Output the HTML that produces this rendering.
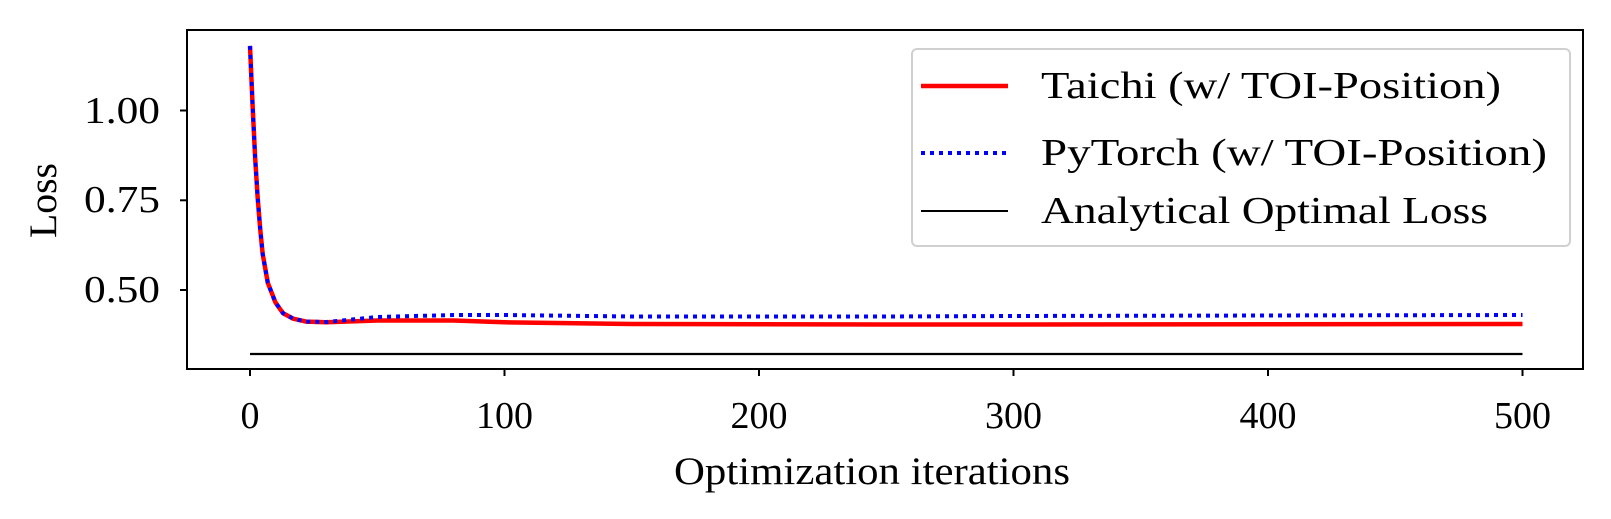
<!DOCTYPE html>
<html><head><meta charset="utf-8"><style>
html,body{margin:0;padding:0;background:#fff;}
svg{display:block;font-family:"Liberation Serif",serif;}
</style></head><body>
<svg width="1611" height="519" viewBox="0 0 1611 519" xmlns="http://www.w3.org/2000/svg">
<rect x="0" y="0" width="1611" height="519" fill="#fff"/>
<line x1="250" y1="354" x2="1522.5" y2="354" stroke="#000" stroke-width="2.2"/>
<path d="M250,45.9 L252.5,103.3 L255.1,157.2 L257.6,196.7 L260.2,229 L262.7,254.1 L267.8,282.8 L275.5,302.6 L283.1,313.3 L293.3,318.7 L306,321.6 L326.4,322.3 L377.3,320.5 L453.6,320.5 L504.5,322.3 L631.8,324 L886.3,324.5 L1013.5,324.5 L1522.5,324" fill="none" stroke="#ff0000" stroke-width="4.5" stroke-linejoin="round"/>
<path d="M250,45.9 L252.5,103.3 L255.1,157.2 L257.6,196.7 L260.2,229 L262.7,254.1 L267.8,282.8 L275.5,302.6 L283.1,313.3 L293.3,318.7 L306,321.6 L326.4,322 L377.3,317 L453.6,315 L504.5,315 L631.8,316.5 L886.3,316.5 L1013.5,316 L1522.5,315" fill="none" stroke="#0000ff" stroke-width="4" stroke-dasharray="4 5"/>
<rect x="187" y="30" width="1396" height="339" fill="none" stroke="#000" stroke-width="2"/>
<g stroke="#000" stroke-width="2">
<line x1="250" y1="369" x2="250" y2="376"/><line x1="504.5" y1="369" x2="504.5" y2="376"/>
<line x1="759" y1="369" x2="759" y2="376"/><line x1="1013.5" y1="369" x2="1013.5" y2="376"/>
<line x1="1268" y1="369" x2="1268" y2="376"/><line x1="1522.5" y1="369" x2="1522.5" y2="376"/>
<line x1="180" y1="110.5" x2="187" y2="110.5"/><line x1="180" y1="200.3" x2="187" y2="200.3"/><line x1="180" y1="290" x2="187" y2="290"/>
</g>
<g font-size="38" text-anchor="middle" fill="#000">
<text x="250" y="428">0</text><text x="504.5" y="428">100</text><text x="759" y="428">200</text>
<text x="1013.5" y="428">300</text><text x="1268" y="428">400</text><text x="1522.5" y="428">500</text>
</g>
<g font-size="38" fill="#000">
<text x="84" y="123" textLength="76" lengthAdjust="spacingAndGlyphs">1.00</text>
<text x="84" y="212" textLength="76" lengthAdjust="spacingAndGlyphs">0.75</text>
<text x="84" y="302" textLength="76" lengthAdjust="spacingAndGlyphs">0.50</text>
</g>
<text x="674" y="484" font-size="39" textLength="396" lengthAdjust="spacingAndGlyphs">Optimization iterations</text>
<text transform="translate(56,238) rotate(-90)" font-size="39" textLength="75" lengthAdjust="spacingAndGlyphs">Loss</text>
<rect x="912" y="49" width="658" height="197" rx="5" fill="#fff" stroke="#ccc" stroke-width="2" opacity="0.9"/>
<line x1="921" y1="86" x2="1008" y2="86" stroke="#ff0000" stroke-width="4.5"/>
<line x1="921" y1="153" x2="1008" y2="153" stroke="#0000ff" stroke-width="4" stroke-dasharray="4 5"/>
<line x1="921" y1="211" x2="1008" y2="211" stroke="#000" stroke-width="2"/>
<g font-size="38" fill="#000">
<text x="1041" y="98" textLength="460" lengthAdjust="spacingAndGlyphs">Taichi (w/ TOI-Position)</text>
<text x="1041" y="165" textLength="506" lengthAdjust="spacingAndGlyphs">PyTorch (w/ TOI-Position)</text>
<text x="1041" y="223" textLength="447" lengthAdjust="spacingAndGlyphs">Analytical Optimal Loss</text>
</g>
</svg>
</body></html>
